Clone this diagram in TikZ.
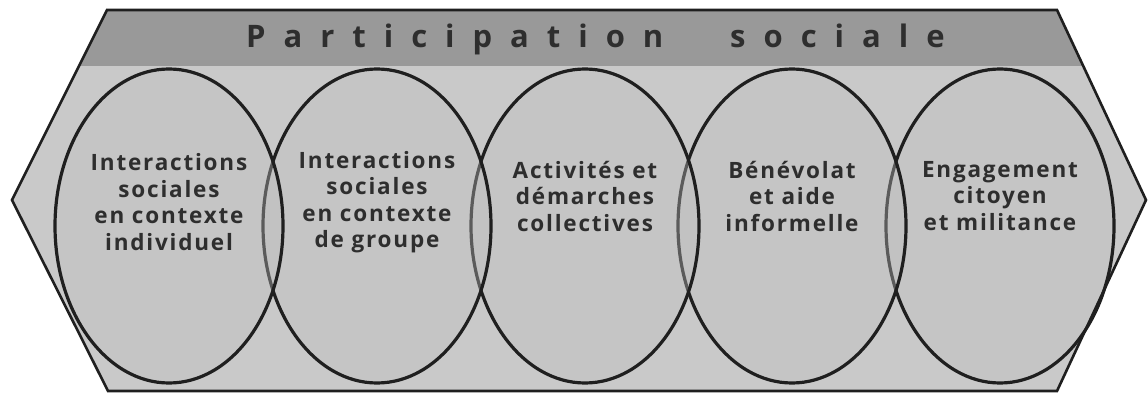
\documentclass[tikz,border=0pt]{standalone}
\usepackage{fontspec}
\setmainfont{Open Sans}
\usetikzlibrary{shapes.geometric}
\begin{document}
\begin{tikzpicture}[x=1pt,y=-1pt,
  outline/.style={draw=black!88, line width=2.6pt, line join=miter},
  oval/.style={ellipse, draw=black!88, line width=3.2pt, fill=black!25, fill opacity=0.38, draw opacity=1, minimum width=228pt, minimum height=314pt, inner sep=0pt},
  lbl/.style={align=center, text=black!82, font=\bfseries\fontsize{22.5}{26.5}\selectfont\addfontfeature{LetterSpace=8}, text opacity=1},
  ttl/.style={anchor=base west, inner sep=0pt, text=black!82, font=\bfseries\fontsize{31}{31}\selectfont\addfontfeature{LetterSpace=58}}]
\useasboundingbox (0,0) rectangle (1148,395);
\path[fill=black!21] (107,10) -- (1057,10) -- (1146,200) -- (1057,391) -- (108,391) -- (12,200) -- cycle;
\begin{scope}
  \clip (107,10) -- (1057,10) -- (1146,200) -- (1057,391) -- (108,391) -- (12,200) -- cycle;
  \fill[black!40] (0,0) rectangle (1148,66);
\end{scope}
\node[ttl] (title1) at (246,48) {Participation};
\node[ttl] (title2) at (730,48) {sociale};
% ellipses drawn right to left
\node[oval] (e5) at (1000,226) {};
\node[oval] (e4) at (792,226) {};
\node[oval] (e3) at (585,226) {};
\node[oval] (e2) at (377,226) {};
\node[oval] (e1) at (169,226) {};
\node[lbl] (t1) at (e1.center) [yshift=24pt] {Interactions\\sociales\\en contexte\\individuel};
\node[lbl] (t2) at (e2.center) [yshift=24pt] {Interactions\\sociales\\en contexte\\de groupe};
\node[lbl] (t3) at (e3.center) [yshift=30pt] {Activités et\\démarches\\collectives};
\node[lbl] (t4) at (e4.center) [yshift=30pt] {Bénévolat\\et aide\\informelle};
\node[lbl] (t5) at (e5.center) [yshift=30pt] {Engagement\\citoyen\\et militance};
\draw[outline] (107,10) -- (1057,10) -- (1146,200) -- (1057,391) -- (108,391) -- (12,200) -- cycle;
\end{tikzpicture}
\end{document}
